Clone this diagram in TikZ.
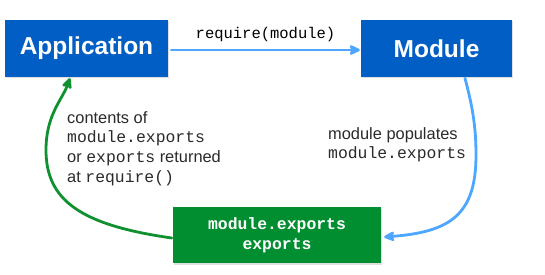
\documentclass[tikz,border=0pt]{standalone}
\usepackage{fontspec}
\setmainfont{Liberation Sans}
\setsansfont{Liberation Sans}
\setmonofont{Liberation Mono}
\usetikzlibrary{arrows.meta,shadows}

\definecolor{boxblue}{RGB}{0,94,196}
\definecolor{boxgreen}{RGB}{0,142,48}
\definecolor{flowblue}{RGB}{77,166,255}
\definecolor{flowgreen}{RGB}{16,145,48}
\definecolor{labelgray}{RGB}{42,42,42}

\tikzset{
  box/.style={draw=none, inner sep=0pt, text=white,
    drop shadow={shadow xshift=1pt, shadow yshift=-1.5pt, opacity=0.25}},
  bluebox/.style={box, fill=boxblue, font=\fontsize{24.5}{28}\selectfont\bfseries},
  greenbox/.style={box, fill=boxgreen, align=center,
    font=\fontsize{16.4}{20}\selectfont\ttfamily\bfseries},
  flow/.style={line width=2.8pt, line cap=round,
    -{Stealth[length=13pt, width=12pt, inset=3pt, round]}},
  bflow/.style={flow, draw=flowblue},
  gflow/.style={flow, draw=flowgreen},
  lbl/.style={inner sep=0pt, align=left, text=labelgray,
    font=\fontsize{16.4}{19.7}\selectfont},
}

\begin{document}
\begin{tikzpicture}[x=1pt, y=-1pt]
  \useasboundingbox[fill=white] (0,0) rectangle (545,275);

  % the three parties
  \node[bluebox, minimum width=163pt, minimum height=57pt] (app) at (86.5,48.5) {Application};
  \node[bluebox, minimum width=151pt, minimum height=57pt] (mod) at (436.5,48.5) {Module};
  \node[greenbox, minimum width=208pt, minimum height=56pt] (exp) at (277,235)
    {module.exports\\exports};

  % require call
  \draw[bflow] ([xshift=3pt,yshift=-1.5pt]app.east) -- ([xshift=-1pt,yshift=-1.5pt]mod.west)
    node[midway, above=7pt, text=black, inner sep=0pt,
         font=\fontsize{15.5}{18}\selectfont\ttfamily] (req) {require(module)};

  % module fills in its exports
  \draw[bflow] ([xshift=28.5pt,yshift=-1pt]mod.south)
    .. controls (472,105) and (476,125) .. (476,155)
    .. controls (476,215) and (450,232) .. ([xshift=3pt,yshift=-2pt]exp.east);
  \node[lbl, anchor=north west] (poplbl) at (328,127)
    {module populates\\\texttt{module.exports}};

  % exports handed back to the caller
  \draw[gflow] ([xshift=-1pt,yshift=-3pt]exp.west)
    .. controls (80,225) and (46,200) .. (46,150)
    .. controls (46,115) and (62,100) .. ([xshift=-16.5pt,yshift=-1pt]app.south);
  \node[lbl, anchor=north west] (retlbl) at (67,111)
    {contents of\\\texttt{module.exports}\\or \texttt{exports} returned\\at \texttt{require()}};
\end{tikzpicture}
\end{document}
